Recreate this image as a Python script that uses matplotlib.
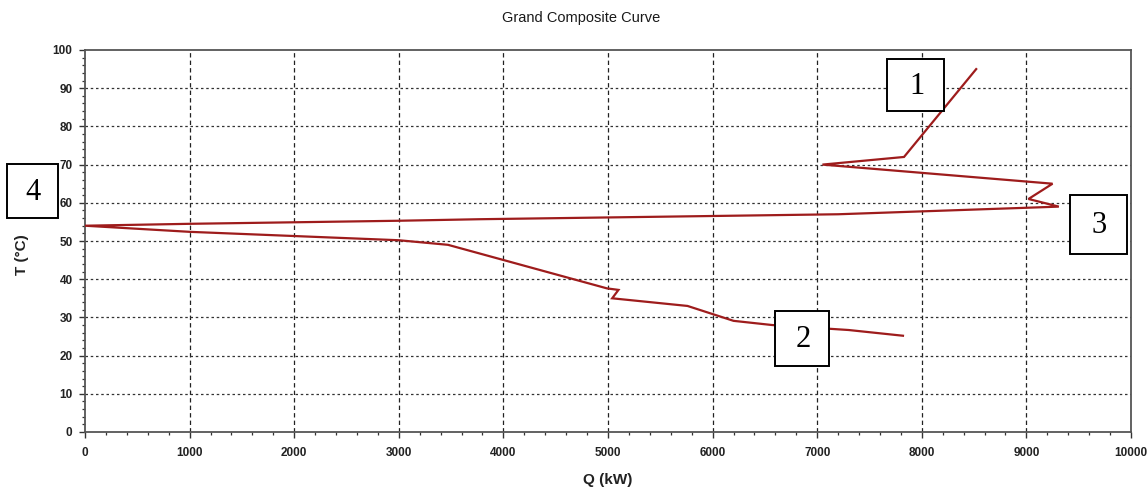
import matplotlib
matplotlib.use("Agg")
import matplotlib.pyplot as plt
from matplotlib.ticker import MultipleLocator
from matplotlib.patches import Rectangle

# Grand composite curve (Q in kW, T in °C)
q_kw = [8520, 7830, 7050, 9250, 9020, 9310, 9000, 7200, 3770, 3000, 2000, 1000, 0,
        1000, 2000, 3000, 3470, 4990, 5100, 5040, 5760, 6200, 6570, 7300, 7820]
t_c = [95, 72, 70, 65, 61, 59, 58.7, 57.0, 55.7, 55.3, 54.9, 54.5, 54,
       52.4, 51.3, 50.2, 49, 37.6, 37.2, 35, 33, 29.1, 28, 26.7, 25.2]

x_ticks = list(range(0, 10001, 1000))
y_ticks = list(range(0, 101, 10))

# Labelled boxes
box_labels = ["1", "2", "3", "4"]

W, H = 1147, 496
fig = plt.figure(figsize=(W / 100, H / 100), dpi=100)
ax = fig.add_axes([85 / W, 1 - 432 / H, (1131 - 85) / W, (432 - 50) / H])

ax.plot(q_kw, t_c, color="#9e1c1c", lw=1.6, solid_joinstyle="miter", zorder=3)

ax.set_xlim(0, 10000)
ax.set_ylim(0, 100)
ax.set_xticks(x_ticks)
ax.set_yticks(y_ticks)
ax.xaxis.set_minor_locator(MultipleLocator(200))
ax.yaxis.set_minor_locator(MultipleLocator(2))

tick_font = dict(family="Liberation Sans", weight="bold", size=8.5)
ax.set_xticklabels([str(v) for v in x_ticks], **tick_font, color="#222222")
ax.set_yticklabels([str(v) for v in y_ticks], **tick_font, color="#222222")
ax.tick_params(which="major", length=4, width=1, color="#333333")
ax.tick_params(axis="x", which="major", pad=7)
ax.tick_params(axis="y", which="major", pad=5)
ax.tick_params(which="minor", length=2.5, width=0.9, color="#333333")

for s in ax.spines.values():
    s.set_color("#555555")
    s.set_linewidth(1.3)

for x in x_ticks[1:-1]:
    ax.axvline(x, color="#222222", lw=0.9, ls=(0, (3.5, 2.5)), zorder=1)
for y in y_ticks[1:-1]:
    ax.axhline(y, color="#333333", lw=0.9, ls=(0, (2, 2.2)), zorder=1)

fig.text(581 / W, 1 - 18 / H, "Grand Composite Curve", ha="center", va="center",
         family="Liberation Sans", size=10.5, color="#1a1a1a")
fig.text(608 / W, 1 - 480 / H, "Q (kW)", ha="center", va="center",
         family="Liberation Sans", weight="bold", size=11, color="#222222")
fig.text(22 / W, 1 - 255 / H, "T (°C)", ha="center", va="center", rotation=90,
         family="Liberation Sans", weight="bold", size=11, color="#222222")

# box extents in pixels: x0, y0(top), x1, y1(bottom)
box_px = {"1": (887, 59, 944, 111), "2": (775, 311, 829, 366),
          "3": (1070, 195, 1127, 254), "4": (7, 164, 58, 218)}
for lab in box_labels:
    x0, y0, x1, y1 = box_px[lab]
    fig.patches.append(Rectangle((x0 / W, 1 - y1 / H), (x1 - x0) / W, (y1 - y0) / H,
                                 transform=fig.transFigure, fc="white", ec="black",
                                 lw=1.4, zorder=10))
    fig.text((x0 + x1) / 2 / W + 1 / W, 1 - ((y0 + y1) / 2 + 1) / H, lab,
             ha="center", va="center", family="Liberation Serif", size=22,
             color="black", zorder=11)

fig.savefig("out.png", dpi=100)
